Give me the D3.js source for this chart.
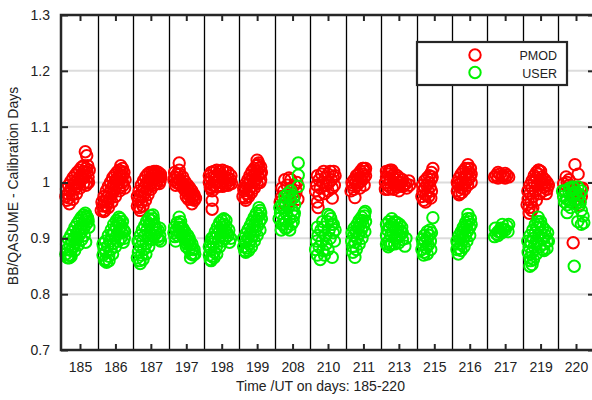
<!DOCTYPE html>
<html><head><meta charset="utf-8">
<script src="https://cdn.jsdelivr.net/npm/d3@7"></script>
<style>html,body{margin:0;padding:0;background:#fff;}svg{display:block;font-family:"Liberation Sans",Arial,sans-serif;}</style>
</head><body><div id="chart"></div>
<script>
const days = ["185","186","187","197","198","199","208","210","211","213","215","216","217","219","220"];
const yTicks = [0.7,0.8,0.9,1.0,1.1,1.2,1.3];
const yGrid = [0.8,0.9,1.0,1.1,1.2];
const seriesNames = ["PMOD","USER"];
const seriesColors = ["#ff0000","#00f200"];
// [day, position within the day band, ratio]
const pmodPoints = [
["185",-0.40,0.975],["185",-0.37,0.968],["185",-0.34,0.980],["185",-0.31,0.972],["185",-0.28,0.985],["185",-0.25,0.990],["185",-0.22,0.978],["185",-0.19,0.995],["185",-0.16,0.988],["185",-0.13,1.000],["185",-0.10,0.993],["185",-0.07,1.005],["185",-0.04,0.998],["185",-0.01,1.010],["185",0.02,1.003],["185",0.05,1.015],["185",0.08,1.008],["185",0.11,1.020],["185",0.14,1.012],["185",0.17,1.025],["185",0.20,1.018],["185",0.23,1.010],["185",0.20,1.000],["185",0.17,0.995],["185",0.26,1.022],["185",0.15,1.055],["185",0.19,1.048],["185",0.22,1.030],
["185",-0.38,0.988],["185",-0.32,0.995],["185",-0.26,1.002],["185",-0.20,1.008],["185",-0.14,1.013],["185",-0.08,1.018],["185",-0.02,1.022],["185",0.04,1.027],["185",0.10,1.030],["185",-0.30,0.962],["185",-0.20,0.970],["185",-0.10,0.980],["185",0.00,0.990],["185",0.10,0.998],["185",0.24,1.000],
["186",-0.40,0.950],["186",-0.36,0.958],["186",-0.33,0.948],["186",-0.30,0.965],["186",-0.27,0.958],["186",-0.24,0.973],["186",-0.21,0.965],["186",-0.18,0.980],["186",-0.15,0.972],["186",-0.12,0.988],["186",-0.09,0.980],["186",-0.06,0.995],["186",-0.03,0.987],["186",0.00,1.002],["186",0.03,0.994],["186",0.06,1.008],["186",0.09,1.000],["186",0.12,1.015],["186",0.15,1.007],["186",0.18,1.020],["186",0.21,1.012],["186",0.24,1.018],["186",0.27,1.005],["186",0.15,1.030],["186",0.22,0.995],["186",0.12,0.985],
["186",-0.38,0.965],["186",-0.32,0.975],["186",-0.26,0.985],["186",-0.20,0.993],["186",-0.14,1.000],["186",-0.08,1.008],["186",-0.02,1.013],["186",0.04,1.018],["186",0.10,1.022],["186",0.20,1.025],["186",-0.30,0.950],["186",-0.20,0.955],["186",-0.10,0.965],["186",0.00,0.975],["186",0.10,0.990],["186",0.20,1.000],["186",0.26,0.990],
["187",-0.38,0.958],["187",-0.35,0.968],["187",-0.32,0.955],["187",-0.30,0.975],["187",-0.27,0.965],["187",-0.25,0.983],["187",-0.22,0.975],["187",-0.19,0.990],["187",-0.16,0.982],["187",-0.13,0.998],["187",-0.10,0.990],["187",-0.07,1.003],["187",-0.04,0.996],["187",-0.01,1.008],["187",0.02,1.000],["187",0.05,1.012],["187",0.08,1.005],["187",0.11,1.015],["187",0.14,1.008],["187",0.17,1.013],["187",0.20,1.005],["187",0.23,1.010],["187",0.26,1.003],["187",0.28,1.010],
["187",-0.38,0.975],["187",-0.33,0.985],["187",-0.27,0.995],["187",-0.21,1.003],["187",-0.15,1.010],["187",-0.09,1.015],["187",-0.03,1.018],["187",0.03,1.018],["187",0.09,1.020],["187",0.15,1.020],["187",0.21,1.018],["187",0.27,1.015],["187",-0.30,0.950],["187",-0.22,0.958],["187",-0.15,0.968],["187",-0.08,0.978],["187",0.00,0.988],["187",0.08,0.995],["187",0.16,0.998],["187",0.24,0.998],
["197",-0.20,1.035],["197",-0.20,1.022],["197",-0.35,1.005],["197",-0.32,1.010],["197",-0.28,1.000],["197",-0.25,1.008],["197",-0.22,0.998],["197",-0.18,1.005],["197",-0.15,0.995],["197",-0.12,1.000],["197",-0.08,0.990],["197",-0.05,0.995],["197",-0.02,0.985],["197",0.02,0.990],["197",0.05,0.980],["197",0.08,0.985],["197",0.11,0.975],["197",0.14,0.980],["197",0.17,0.970],["197",0.20,0.975],["197",0.23,0.968],["197",-0.10,1.010],["197",0.00,0.975],
["197",-0.33,1.018],["197",-0.26,1.015],["197",-0.18,1.015],["197",-0.10,0.998],["197",-0.04,1.002],["197",0.04,0.995],["197",0.10,0.990],["197",0.16,0.985],["197",0.22,0.978],["197",0.26,0.972],["197",0.06,0.970],["197",0.16,0.962],["197",-0.30,0.995],
["198",-0.35,1.000],["198",-0.30,1.008],["198",-0.27,0.995],["198",-0.22,1.010],["198",-0.18,1.000],["198",-0.14,1.012],["198",-0.10,1.002],["198",-0.06,1.010],["198",-0.02,1.000],["198",0.02,1.012],["198",0.06,1.003],["198",0.10,1.010],["198",0.14,1.000],["198",0.18,1.008],["198",0.22,0.998],["198",0.25,1.005],["198",-0.27,0.985],["198",-0.27,0.968],["198",-0.27,0.952],["198",-0.30,0.990],
["198",-0.35,1.012],["198",-0.30,1.018],["198",-0.22,1.020],["198",-0.14,1.022],["198",-0.06,1.020],["198",0.02,1.022],["198",0.10,1.020],["198",0.18,1.018],["198",0.26,1.012],["198",-0.32,0.992],["198",-0.22,0.995],["198",-0.14,0.992],["198",-0.06,0.995],["198",0.02,0.993],["198",0.10,0.995],["198",0.18,0.995],["198",0.28,0.998],
["199",-0.40,0.975],["199",-0.37,0.985],["199",-0.34,0.972],["199",-0.31,0.990],["199",-0.28,0.980],["199",-0.25,0.997],["199",-0.22,0.987],["199",-0.19,1.003],["199",-0.16,0.993],["199",-0.13,1.010],["199",-0.10,1.000],["199",-0.07,1.015],["199",-0.04,1.005],["199",-0.01,1.020],["199",0.02,1.012],["199",0.05,1.025],["199",0.08,1.015],["199",0.10,1.028],["199",0.00,1.040],["199",0.03,1.032],["199",0.10,1.005],
["199",-0.38,0.990],["199",-0.32,0.998],["199",-0.26,1.005],["199",-0.20,1.013],["199",-0.14,1.020],["199",-0.08,1.025],["199",-0.02,1.030],["199",0.04,1.035],["199",-0.32,0.968],["199",-0.24,0.975],["199",-0.16,0.982],["199",-0.08,0.990],["199",0.00,0.998],["199",0.08,1.000],["199",0.12,1.018],
["208",-0.35,0.965],["208",-0.30,0.975],["208",-0.25,0.985],["208",-0.22,1.005],["208",-0.15,0.995],["208",-0.10,1.008],["208",-0.05,0.990],["208",0.00,0.980],["208",0.05,0.995],["208",0.10,0.985],["208",0.15,0.970],["208",-0.20,0.960],["208",0.12,1.000],["208",-0.08,0.965],["208",-0.30,0.990],["208",-0.05,1.005],["208",0.05,0.975],
["210",-0.35,0.985],["210",-0.32,0.995],["210",-0.30,0.965],["210",-0.28,0.955],["210",-0.25,1.005],["210",-0.22,0.990],["210",-0.18,1.015],["210",-0.15,1.000],["210",-0.12,1.020],["210",-0.08,1.008],["210",-0.05,0.995],["210",0.00,1.015],["210",0.03,1.000],["210",0.06,1.020],["210",0.10,1.005],["210",0.12,0.990],["210",0.15,1.010],["210",0.18,0.995],["210",0.12,0.972],["210",-0.25,0.978],["210",0.20,1.012],["210",-0.30,1.012],["210",0.00,0.985],["210",0.16,1.020],["210",-0.10,0.980],
["211",-0.35,0.985],["211",-0.30,0.995],["211",-0.27,0.988],["211",-0.24,0.973],["211",-0.22,1.000],["211",-0.18,0.995],["211",-0.15,1.005],["211",-0.12,1.000],["211",-0.08,1.010],["211",-0.05,1.003],["211",-0.02,1.015],["211",0.01,1.008],["211",0.04,1.020],["211",0.00,1.025],["211",0.06,1.012],
["211",-0.32,1.000],["211",-0.26,1.005],["211",-0.20,1.012],["211",-0.14,1.015],["211",-0.08,1.020],["211",-0.02,1.025],["211",0.06,1.025],["211",-0.10,0.990],["211",0.02,0.995],
["213",-0.38,1.000],["213",-0.35,1.010],["213",-0.32,0.995],["213",-0.28,1.020],["213",-0.25,1.005],["213",-0.22,0.990],["213",-0.18,1.012],["213",-0.15,1.000],["213",-0.12,0.995],["213",-0.08,1.005],["213",-0.05,0.992],["213",-0.02,1.000],["213",0.02,0.995],["213",0.06,1.000],["213",0.10,0.993],["213",-0.30,0.988],["213",-0.25,1.022],["213",0.20,0.998],["213",0.28,1.003],
["213",-0.35,1.020],["213",-0.30,1.015],["213",-0.20,1.022],["213",-0.12,1.015],["213",-0.05,1.012],["213",0.02,1.008],["213",0.10,1.005],["213",0.15,0.995],["213",0.22,0.990],["213",0.30,0.995],["213",-0.38,0.988],["213",-0.15,0.988],["213",0.00,0.985],
["215",-0.35,0.975],["215",-0.32,0.985],["215",-0.30,0.968],["215",-0.27,0.990],["215",-0.24,0.978],["215",-0.21,0.995],["215",-0.18,0.985],["215",-0.15,1.000],["215",-0.12,0.992],["215",-0.09,1.005],["215",-0.06,1.010],["215",-0.04,1.025],["215",-0.10,0.972],
["215",-0.33,0.995],["215",-0.27,1.003],["215",-0.20,1.008],["215",-0.14,1.012],["215",-0.08,1.018],["215",-0.25,0.965],["215",-0.16,0.975],["215",-0.08,0.985],
["216",-0.35,0.985],["216",-0.32,0.995],["216",-0.29,0.980],["216",-0.26,1.000],["216",-0.23,0.990],["216",-0.20,1.005],["216",-0.17,0.995],["216",-0.14,1.010],["216",-0.11,1.000],["216",-0.08,1.015],["216",-0.05,1.005],["216",-0.02,1.018],["216",0.01,1.010],["216",0.04,1.015],["216",-0.05,1.032],
["216",-0.35,1.000],["216",-0.30,1.008],["216",-0.24,1.015],["216",-0.18,1.020],["216",-0.12,1.025],["216",-0.05,1.025],["216",0.02,1.025],["216",-0.30,0.978],["216",-0.22,0.982],["216",-0.14,0.988],["216",-0.06,0.995],["216",0.04,1.000],
["217",-0.30,1.010],["217",-0.25,1.013],["217",-0.20,1.008],["217",-0.15,1.015],["217",-0.10,1.010],["217",-0.05,1.012],["217",0.00,1.008],["217",0.05,1.013],["217",0.10,1.010],["217",-0.20,1.018],["217",0.00,1.016],
["219",-0.38,0.960],["219",-0.35,0.970],["219",-0.32,0.955],["219",-0.30,0.980],["219",-0.27,0.965],["219",-0.24,0.990],["219",-0.21,0.975],["219",-0.18,1.000],["219",-0.15,0.985],["219",-0.12,1.008],["219",-0.09,0.995],["219",-0.06,1.015],["219",-0.03,1.002],["219",0.00,1.020],["219",0.03,1.005],["219",0.06,0.998],["219",0.10,0.992],["219",0.14,0.995],["219",0.18,0.988],["219",-0.25,0.950],["219",-0.05,1.022],
["219",-0.36,0.985],["219",-0.30,0.995],["219",-0.24,1.003],["219",-0.18,1.012],["219",-0.12,1.018],["219",-0.06,1.022],["219",0.05,1.010],["219",0.12,1.005],["219",0.18,1.000],["219",0.22,0.995],["219",-0.32,0.945],["219",-0.22,0.955],["219",-0.12,0.968],["219",-0.02,0.980],["219",0.08,0.985],["219",0.16,0.980],
["220",-0.03,1.032],["220",0.06,1.015],["220",-0.25,1.000],["220",-0.20,0.995],["220",-0.30,0.985],["220",-0.15,0.990],["220",-0.10,0.975],["220",-0.05,0.985],["220",0.00,0.970],["220",0.05,0.980],["220",0.10,0.960],["220",0.15,0.975],["220",0.12,0.990],["220",-0.08,0.892],["220",-0.20,1.005],["220",-0.35,0.998],["220",0.18,0.990],["220",-0.28,1.010]
];
const userPoints = [
["185",-0.40,0.872],["185",-0.36,0.880],["185",-0.32,0.870],["185",-0.28,0.888],["185",-0.25,0.878],["185",-0.22,0.895],["185",-0.19,0.885],["185",-0.16,0.900],["185",-0.13,0.892],["185",-0.10,0.908],["185",-0.07,0.900],["185",-0.04,0.915],["185",-0.01,0.907],["185",0.02,0.920],["185",0.05,0.912],["185",0.08,0.925],["185",0.11,0.918],["185",0.14,0.932],["185",0.17,0.925],["185",0.20,0.938],["185",0.23,0.930],["185",0.15,0.945],["185",0.18,0.940],["185",0.16,0.893],["185",0.25,0.920],["185",-0.30,0.865],
["185",-0.38,0.890],["185",-0.32,0.898],["185",-0.26,0.905],["185",-0.20,0.912],["185",-0.14,0.920],["185",-0.08,0.926],["185",-0.02,0.932],["185",0.04,0.938],["185",0.10,0.942],["185",-0.35,0.865],["185",-0.25,0.868],["185",-0.15,0.878],["185",-0.05,0.888],["185",0.05,0.898],["185",0.12,0.905],["185",0.22,0.935],
["186",-0.35,0.870],["186",-0.30,0.860],["186",-0.27,0.875],["186",-0.25,0.857],["186",-0.22,0.885],["186",-0.19,0.868],["186",-0.16,0.895],["186",-0.13,0.880],["186",-0.10,0.905],["186",-0.07,0.890],["186",-0.04,0.912],["186",-0.01,0.900],["186",0.02,0.920],["186",0.05,0.908],["186",0.08,0.928],["186",0.11,0.915],["186",0.14,0.935],["186",0.17,0.922],["186",0.20,0.930],["186",0.23,0.915],["186",0.25,0.900],["186",0.22,0.893],["186",-0.32,0.882],["186",0.10,0.938],
["186",-0.35,0.890],["186",-0.28,0.895],["186",-0.20,0.905],["186",-0.12,0.915],["186",-0.05,0.925],["186",0.03,0.932],["186",0.12,0.925],["186",0.18,0.910],["186",0.26,0.912],["186",-0.28,0.862],["186",-0.18,0.860],["186",-0.08,0.872],["186",0.00,0.885],["186",0.08,0.895],["186",0.15,0.900],
["187",-0.38,0.865],["187",-0.35,0.875],["187",-0.32,0.860],["187",-0.29,0.885],["187",-0.26,0.870],["187",-0.23,0.895],["187",-0.20,0.880],["187",-0.17,0.905],["187",-0.14,0.890],["187",-0.11,0.915],["187",-0.08,0.900],["187",-0.05,0.925],["187",-0.02,0.910],["187",0.01,0.932],["187",0.04,0.920],["187",0.07,0.935],["187",0.10,0.925],["187",0.13,0.918],["187",0.16,0.910],["187",0.19,0.902],["187",0.22,0.898],["187",0.25,0.905],["187",-0.33,0.895],
["187",-0.36,0.895],["187",-0.30,0.905],["187",-0.24,0.915],["187",-0.18,0.922],["187",-0.12,0.930],["187",-0.06,0.935],["187",0.00,0.940],["187",0.06,0.942],["187",-0.30,0.855],["187",-0.22,0.862],["187",-0.14,0.872],["187",-0.06,0.885],["187",0.02,0.898],["187",0.10,0.905],["187",0.20,0.915],["187",0.27,0.895],["187",0.25,0.918],
["197",-0.20,0.938],["197",-0.35,0.910],["197",-0.32,0.903],["197",-0.28,0.915],["197",-0.25,0.905],["197",-0.22,0.920],["197",-0.18,0.910],["197",-0.15,0.918],["197",-0.12,0.905],["197",-0.08,0.910],["197",-0.05,0.898],["197",-0.02,0.902],["197",0.02,0.890],["197",0.05,0.895],["197",0.08,0.880],["197",0.11,0.888],["197",0.14,0.872],["197",0.17,0.880],["197",0.20,0.870],["197",0.08,0.900],["197",-0.18,0.925],
["197",-0.33,0.920],["197",-0.26,0.928],["197",-0.16,0.930],["197",-0.10,0.918],["197",-0.04,0.912],["197",0.04,0.905],["197",0.10,0.895],["197",0.16,0.890],["197",0.22,0.880],["197",0.24,0.872],["197",0.12,0.865],["197",0.00,0.885],["197",-0.30,0.895],
["198",-0.35,0.870],["198",-0.32,0.862],["198",-0.30,0.880],["198",-0.27,0.868],["198",-0.24,0.890],["198",-0.21,0.875],["198",-0.18,0.900],["198",-0.15,0.885],["198",-0.12,0.908],["198",-0.09,0.895],["198",-0.06,0.915],["198",-0.03,0.905],["198",0.00,0.920],["198",0.03,0.910],["198",0.06,0.925],["198",0.09,0.915],["198",0.12,0.922],["198",0.15,0.910],["198",0.18,0.905],["198",0.22,0.893],["198",-0.28,0.900],
["198",-0.35,0.885],["198",-0.30,0.893],["198",-0.24,0.902],["198",-0.18,0.912],["198",-0.12,0.920],["198",-0.06,0.928],["198",0.00,0.932],["198",0.06,0.935],["198",0.12,0.932],["198",0.20,0.915],["198",0.25,0.900],["198",-0.30,0.860],["198",-0.22,0.865],["198",-0.14,0.872],["198",-0.06,0.885],["198",0.02,0.895],["198",0.10,0.900],
["199",-0.38,0.885],["199",-0.35,0.878],["199",-0.32,0.893],["199",-0.29,0.883],["199",-0.26,0.900],["199",-0.23,0.890],["199",-0.20,0.908],["199",-0.17,0.898],["199",-0.14,0.916],["199",-0.11,0.906],["199",-0.08,0.924],["199",-0.05,0.914],["199",-0.02,0.932],["199",0.01,0.922],["199",0.04,0.940],["199",0.07,0.930],["199",0.10,0.945],["199",0.05,0.955],["199",0.08,0.950],
["199",-0.38,0.900],["199",-0.32,0.908],["199",-0.26,0.915],["199",-0.20,0.922],["199",-0.14,0.930],["199",-0.08,0.938],["199",-0.02,0.945],["199",-0.32,0.875],["199",-0.24,0.878],["199",-0.16,0.885],["199",-0.08,0.895],["199",0.00,0.905],["199",0.08,0.915],["199",0.12,0.935],
["208",0.16,1.035],["208",0.16,1.013],["208",0.16,0.993],["208",-0.38,0.935],["208",-0.34,0.945],["208",-0.30,0.925],["208",-0.27,0.955],["208",-0.24,0.935],["208",-0.21,0.965],["208",-0.18,0.945],["208",-0.15,0.920],["208",-0.12,0.955],["208",-0.09,0.935],["208",-0.06,0.970],["208",-0.03,0.925],["208",0.00,0.950],["208",0.03,0.940],["208",0.06,0.960],["208",-0.10,0.975],["208",-0.25,0.925],["208",0.02,0.930],
["208",-0.36,0.955],["208",-0.30,0.960],["208",-0.22,0.975],["208",-0.14,0.980],["208",-0.05,0.985],["208",0.02,0.972],["208",-0.32,0.915],["208",-0.20,0.918],["208",-0.08,0.915],["208",0.05,0.945],["208",-0.18,0.930],
["210",-0.35,0.880],["210",-0.32,0.895],["210",-0.30,0.870],["210",-0.28,0.905],["210",-0.25,0.885],["210",-0.22,0.862],["210",-0.20,0.915],["210",-0.17,0.895],["210",-0.14,0.878],["210",-0.12,0.920],["210",-0.08,0.905],["210",-0.05,0.890],["210",-0.02,0.930],["210",0.00,0.943],["210",0.03,0.915],["210",0.06,0.900],["210",0.10,0.925],["210",0.12,0.866],["210",0.15,0.910],["210",0.18,0.895],["210",0.20,0.915],["210",0.08,0.935],
["210",-0.30,0.920],["210",-0.15,0.930],["210",0.05,0.940],["210",0.15,0.925],["210",0.00,0.880],["210",-0.10,0.870],
["211",-0.33,0.895],["211",-0.30,0.885],["211",-0.27,0.905],["211",-0.24,0.866],["211",-0.24,0.893],["211",-0.21,0.912],["211",-0.18,0.900],["211",-0.15,0.918],["211",-0.12,0.908],["211",-0.09,0.925],["211",-0.06,0.915],["211",-0.03,0.932],["211",0.00,0.922],["211",0.03,0.940],["211",0.06,0.930],["211",0.05,0.948],
["211",-0.32,0.910],["211",-0.26,0.918],["211",-0.18,0.925],["211",-0.12,0.932],["211",-0.05,0.938],["211",0.02,0.945],["211",-0.30,0.875],["211",-0.20,0.880],["211",-0.12,0.890],["211",-0.04,0.900],["211",0.04,0.912],
["213",-0.35,0.905],["213",-0.32,0.915],["213",-0.29,0.895],["213",-0.26,0.920],["213",-0.23,0.905],["213",-0.20,0.925],["213",-0.17,0.910],["213",-0.14,0.920],["213",-0.11,0.900],["213",-0.08,0.915],["213",-0.05,0.905],["213",-0.02,0.918],["213",0.02,0.905],["213",0.06,0.912],["213",0.10,0.898],["213",0.17,0.886],["213",-0.30,0.885],["213",-0.20,0.890],
["213",-0.35,0.925],["213",-0.28,0.930],["213",-0.20,0.935],["213",-0.12,0.930],["213",-0.05,0.928],["213",0.02,0.925],["213",0.08,0.920],["213",-0.35,0.890],["213",-0.25,0.888],["213",-0.12,0.890],["213",0.00,0.892],["213",0.10,0.910],["213",0.20,0.900],
["215",-0.04,0.937],["215",-0.35,0.880],["215",-0.32,0.890],["215",-0.29,0.875],["215",-0.26,0.895],["215",-0.23,0.883],["215",-0.20,0.900],["215",-0.17,0.888],["215",-0.14,0.905],["215",-0.11,0.895],["215",-0.08,0.910],
["215",-0.34,0.898],["215",-0.28,0.905],["215",-0.20,0.912],["215",-0.12,0.915],["215",-0.30,0.870],["215",-0.20,0.872],["215",-0.10,0.880],
["216",-0.36,0.880],["216",-0.33,0.890],["216",-0.30,0.882],["216",-0.27,0.898],["216",-0.24,0.890],["216",-0.21,0.906],["216",-0.18,0.898],["216",-0.15,0.915],["216",-0.12,0.905],["216",-0.09,0.922],["216",-0.06,0.913],["216",-0.03,0.930],["216",0.00,0.920],["216",0.02,0.935],["216",-0.05,0.943],
["216",-0.36,0.895],["216",-0.30,0.905],["216",-0.24,0.912],["216",-0.18,0.920],["216",-0.12,0.928],["216",-0.06,0.935],["216",-0.32,0.872],["216",-0.24,0.878],["216",-0.16,0.885],["216",-0.08,0.895],["216",0.00,0.905],["216",0.04,0.925],
["217",-0.30,0.903],["217",-0.25,0.908],["217",-0.20,0.905],["217",-0.15,0.912],["217",-0.10,0.910],["217",-0.05,0.917],["217",0.00,0.915],["217",0.05,0.922],["217",0.10,0.925],["217",-0.12,0.918],["217",-0.20,0.912],["217",-0.28,0.918],["217",-0.08,0.925],["217",0.08,0.912],
["219",-0.35,0.875],["219",-0.32,0.885],["219",-0.30,0.865],["219",-0.27,0.893],["219",-0.24,0.853],["219",-0.24,0.875],["219",-0.21,0.900],["219",-0.18,0.885],["219",-0.15,0.910],["219",-0.12,0.895],["219",-0.09,0.920],["219",-0.07,0.938],["219",-0.05,0.905],["219",-0.02,0.925],["219",0.02,0.910],["219",0.06,0.900],["219",0.10,0.890],["219",0.14,0.905],["219",0.18,0.895],["219",0.05,0.880],["219",-0.28,0.860],
["219",-0.36,0.895],["219",-0.30,0.905],["219",-0.22,0.915],["219",-0.15,0.925],["219",-0.08,0.930],["219",0.00,0.930],["219",0.06,0.920],["219",0.12,0.915],["219",0.20,0.910],["219",0.22,0.895],["219",-0.30,0.850],["219",-0.20,0.862],["219",-0.12,0.872],["219",-0.02,0.885],["219",0.10,0.878],["219",0.18,0.882],
["220",-0.35,0.975],["220",-0.30,0.985],["220",-0.25,0.970],["220",-0.20,0.980],["220",-0.15,0.965],["220",-0.10,0.978],["220",-0.05,0.968],["220",0.00,0.982],["220",0.05,0.970],["220",0.10,0.978],["220",-0.25,0.960],["220",-0.05,0.990],["220",0.08,0.958],["220",-0.25,0.946],["220",0.05,0.930],["220",0.22,0.928],["220",0.15,0.950],["220",-0.05,0.850],
["220",-0.38,0.985],["220",-0.32,0.965],["220",-0.18,0.990],["220",-0.10,0.992],["220",0.00,0.962],["220",0.12,0.965],["220",0.15,0.985],["220",-0.15,0.955],["220",0.05,0.992],["220",0.20,0.940],["220",0.15,0.925]
];

const W = 592, H = 400;
const pLeft = 61, pRight = 595, pTop = 15, pBottom = 350;
const svg = d3.select("#chart").append("svg").attr("width", W).attr("height", H);

const x = d3.scaleLinear().domain([-0.536, days.length - 1 + 0.536]).range([pLeft, pRight]);
const y = d3.scaleLinear().domain([0.7, 1.3]).range([pBottom, pTop]);
const dayIdx = d => days.indexOf(d);

// grid
svg.append("g").selectAll("line").data(yGrid).join("line")
  .attr("x1", pLeft).attr("x2", pRight).attr("y1", d => y(d)).attr("y2", d => y(d))
  .attr("stroke", "#dcdcdc").attr("stroke-width", 2);

// day separators
svg.append("g").selectAll("line").data(days.slice(0, -1)).join("line")
  .attr("x1", (d, i) => Math.round(x(i + 0.5)) + 0.5).attr("x2", (d, i) => Math.round(x(i + 0.5)) + 0.5)
  .attr("y1", pTop).attr("y2", pBottom).attr("stroke", "#000").attr("stroke-width", 1.3);

// points
const series = [pmodPoints, userPoints];
series.forEach((pts, si) => {
  svg.append("g").selectAll("circle").data(pts).join("circle")
    .attr("cx", d => x(dayIdx(d[0]) + d[1]))
    .attr("cy", d => y(d[2]))
    .attr("r", 5.7).attr("fill", "none")
    .attr("stroke", seriesColors[si]).attr("stroke-width", 2);
});

// frame
svg.append("rect").attr("x", pLeft).attr("y", pTop).attr("width", pRight - pLeft).attr("height", pBottom - pTop)
  .attr("fill", "none").attr("stroke", "#262626").attr("stroke-width", 2.5);

// axes with inward ticks
const axisColor = "#262626";
const gl = svg.append("g").attr("transform", `translate(${pLeft},0)`)
  .call(d3.axisLeft(y).tickValues(yTicks).tickSize(-7).tickPadding(11).tickFormat(d => String(+d.toFixed(1))));
const gr = svg.append("g").attr("transform", `translate(${pRight},0)`)
  .call(d3.axisRight(y).tickValues(yTicks).tickSize(-7).tickFormat(""));
const gb = svg.append("g").attr("transform", `translate(0,${pBottom})`)
  .call(d3.axisBottom(x).tickValues(d3.range(days.length)).tickSize(-6).tickPadding(12).tickFormat(i => days[i]));
const gt = svg.append("g").attr("transform", `translate(0,${pTop})`)
  .call(d3.axisTop(x).tickValues(d3.range(days.length)).tickSize(-6).tickFormat(""));
[gl, gr, gb, gt].forEach(g => {
  g.select(".domain").remove();
  g.selectAll(".tick line").attr("stroke", axisColor).attr("stroke-width", 2);
  g.selectAll(".tick text").attr("fill", "#222").attr("font-size", 14).attr("font-family", '"Liberation Sans", Arial, sans-serif');
});

// titles
svg.append("text").attr("x", (pLeft + 580) / 2).attr("y", 391).attr("text-anchor", "middle")
  .attr("font-size", 14).attr("fill", "#222").text("Time /UT on days: 185-220");
svg.append("text").attr("transform", "translate(18,186) rotate(-90)").attr("text-anchor", "middle")
  .attr("font-size", 14).attr("fill", "#222").text("BB/QASUME - Calibration Days");

// legend
const lg = svg.append("g");
lg.append("rect").attr("x", 417).attr("y", 42).attr("width", 150).attr("height", 43)
  .attr("fill", "#fff").attr("stroke", "#262626").attr("stroke-width", 2.2);
seriesNames.forEach((n, i) => {
  lg.append("circle").attr("cx", 475).attr("cy", 55 + i * 17.5).attr("r", 5.7).attr("fill", "none")
    .attr("stroke", seriesColors[i]).attr("stroke-width", 2);
  lg.append("text").attr("x", 557).attr("y", 60 + i * 17.5).attr("text-anchor", "end")
    .attr("font-size", 12.5).attr("fill", "#222").text(n);
});
</script></body></html>
